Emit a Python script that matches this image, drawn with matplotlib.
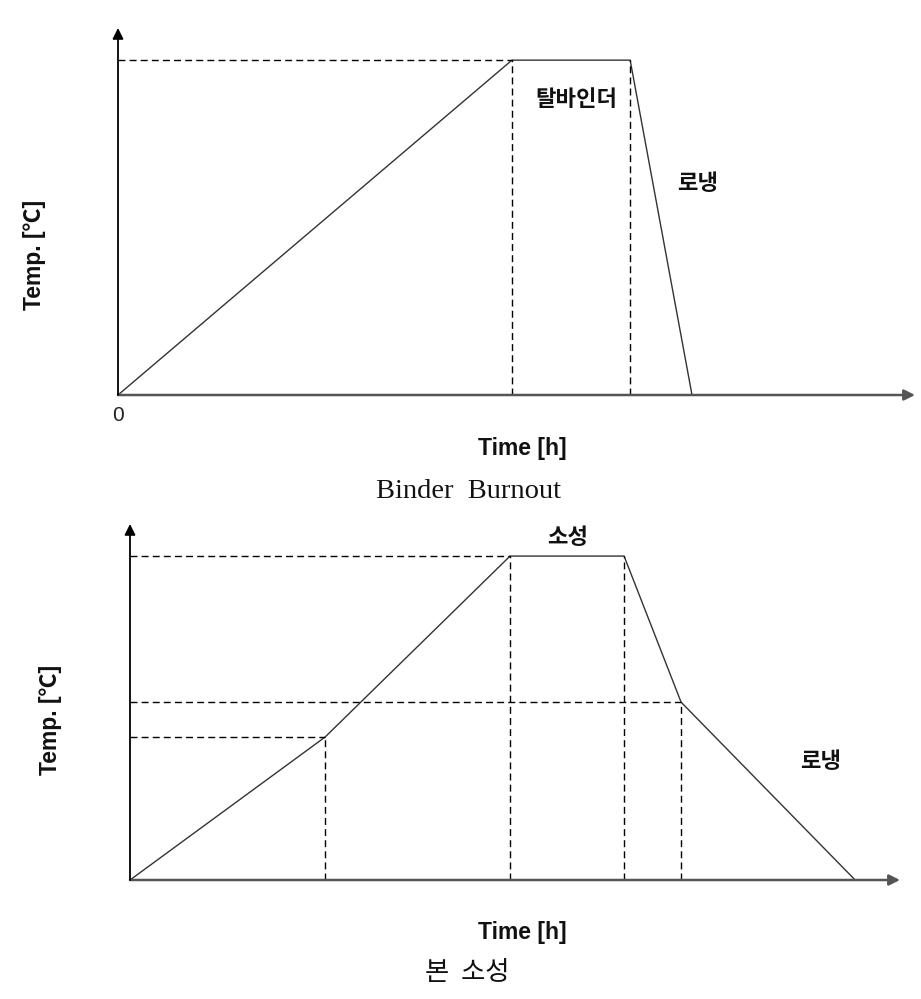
import numpy as np
import matplotlib.pyplot as plt

W, H = 921, 999

# binder burnout profile (time in h, temp in % of hold temperature)
bb_time = [0, 10.0, 13.0, 14.57]
bb_temp = [0, 100, 100, 0]
bb_xmax, bb_ymax = 20.23, 109.6

# main sintering profile
ms_time = [0, 5.13, 10.0, 13.0, 14.5, 19.08]
ms_temp = [0, 44.1, 100, 100, 54.9, 0]
ms_xmax, ms_ymax = 20.26, 109.9


def px(x, y):
    return x / W, 1 - y / H


def axes_at(left, right, bottom, top):
    ax = fig.add_axes([left / W, 1 - bottom / H, (right - left) / W, (bottom - top) / H])
    ax.axis("off")
    return ax


def draw_profile(ax, t, T, xmax, ymax, guides):
    ax.set_xlim(0, xmax)
    ax.set_ylim(0, ymax)
    ax.plot(t, T, color="#333333", lw=1.0, clip_on=False)
    for i in guides:
        ax.plot([0, t[i]], [T[i], T[i]], color="black", lw=1.0, dashes=(5, 3))
    for i in range(1, len(t) - 1):
        ax.plot([t[i], t[i]], [0, T[i]], color="black", lw=1.0, dashes=(5, 3))
    ax.annotate("", xy=(xmax, 0), xytext=(0, 0), annotation_clip=False,
                arrowprops=dict(arrowstyle="-|>", lw=1.8, color="#555555",
                                mutation_scale=16, shrinkA=0, shrinkB=0))
    ax.annotate("", xy=(0, ymax), xytext=(0, 0), annotation_clip=False,
                arrowprops=dict(arrowstyle="-|>", lw=1.3, color="black",
                                mutation_scale=16, shrinkA=0, shrinkB=0))


fig = plt.figure(figsize=(W / 100, H / 100), dpi=100)

lab_font = dict(family=["Liberation Sans", "Noto Sans CJK KR"], fontweight="bold",
                fontsize=16.5, color="#111111")
kr_font = dict(family=["Noto Sans CJK KR"], fontweight="bold", fontsize=16,
               color="#111111")

# --- top: binder burnout ---
ax1 = axes_at(118, 915, 395, 28)
draw_profile(ax1, bb_time, bb_temp, bb_xmax, bb_ymax, guides=[1])
fig.text(*px(35, 255), "Temp. [℃]", rotation=90, ha="center", va="center", **lab_font)
fig.text(*px(118, 416), "0", ha="center", va="center", fontsize=15,
         family="Liberation Sans", color="#222222")
fig.text(*px(522, 449), "Time [h]", ha="center", va="center", **lab_font)
fig.text(*px(576, 100), "탈바인더", ha="center", va="center", **kr_font)
fig.text(*px(698, 183), "로냉", ha="center", va="center", **kr_font)
fig.text(*px(468, 492), "Binder  Burnout", ha="center", va="center",
         family="Liberation Serif", fontsize=20.5, color="#111111")

# --- bottom: main sintering ---
ax2 = axes_at(130, 900, 880, 524)
draw_profile(ax2, ms_time, ms_temp, ms_xmax, ms_ymax, guides=[1, 2, 4])
fig.text(*px(50, 720), "Temp. [℃]", rotation=90, ha="center", va="center", **lab_font)
fig.text(*px(522, 932), "Time [h]", ha="center", va="center", **lab_font)
fig.text(*px(568, 537), "소성", ha="center", va="center", **kr_font)
fig.text(*px(821, 762), "로냉", ha="center", va="center", **kr_font)
fig.text(*px(467, 972), "본  소성", ha="center", va="center",
         family="Noto Sans CJK KR", fontsize=19, color="#111111")

fig.savefig("out.png", dpi=100)
